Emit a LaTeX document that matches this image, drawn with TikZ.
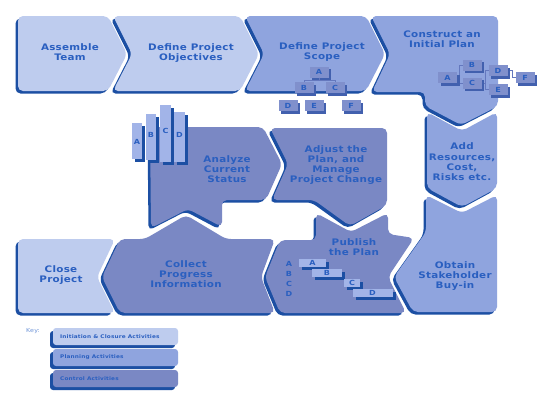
\documentclass[tikz,border=0pt]{standalone}
\usepackage{fontspec}
\usetikzlibrary{shadows}
\newfontfamily\lblfont{DejaVu Sans}[FakeStretch=1.15,LetterSpace=3]
\definecolor{lightc}{HTML}{BECCEE}
\definecolor{planc}{HTML}{8FA4DE}
\definecolor{ctrlc}{HTML}{7A88C4}
\definecolor{shadc}{HTML}{1C4FA3}
\definecolor{txtc}{HTML}{2A5FC0}
\definecolor{boxc}{HTML}{8090CC}
\definecolor{boxsh}{HTML}{4260AE}
\definecolor{linec}{HTML}{6478BE}
\definecolor{barc}{HTML}{A2B4E8}
\definecolor{keyc}{HTML}{6F95D8}
\newcommand\shapeblob[2]{%
  \fill[shadc,rounded corners=5pt,shift={(-2.5,2.5)}] #2;
  \fill[#1,rounded corners=5pt] #2;}
\tikzset{
  lbl/.style={font=\lblfont\bfseries\fontsize{9}{10.3}\selectfont, text=txtc, align=center, inner sep=0pt},
  tbox/.style={fill=boxc, minimum width=19pt, minimum height=11pt, inner sep=0pt,
    font=\lblfont\bfseries\fontsize{7}{7}\selectfont, text=txtc,
    drop shadow={shadow xshift=2.5pt, shadow yshift=-2.5pt, fill=boxsh, opacity=1}},
  gbar/.style={fill=barc, minimum height=8pt, inner sep=0pt,
    font=\lblfont\bfseries\fontsize{7}{7}\selectfont, text=txtc,
    drop shadow={shadow xshift=3pt, shadow yshift=-3pt, fill=shadc, opacity=1}},
  let/.style={font=\lblfont\bfseries\fontsize{7}{7}\selectfont, text=txtc, inner sep=0pt},
  tline/.style={draw=linec, line width=0.5pt},
  keytxt/.style={font=\lblfont\bfseries\fontsize{5}{5}\selectfont, text=txtc, inner sep=0pt, anchor=west},
}
\begin{document}
\begin{tikzpicture}[x=1pt,y=-1pt]
\useasboundingbox (0,0) rectangle (551,402);
\fill[white] (0,0) rectangle (551,402);

% top row
\shapeblob{lightc}{(18,16) -- (108,16) -- (127,54) -- (108,91) -- (18,91) -- cycle}
\shapeblob{lightc}{(113,16) -- (240,16) -- (259,54) -- (240,91) -- (113,91) -- (132,54) -- cycle}
\shapeblob{planc}{(245,16) -- (366,16) -- (385,54) -- (366,91) -- (245,91) -- (264,54) -- cycle}
\shapeblob{planc}{(371,16) -- (498,16) -- (498,106) -- (461,125) -- (425,106) -- (425,92) -- (372,92) -- (390,54) -- cycle}
% right column
\shapeblob{planc}{(427,112) -- (462,131) -- (497,112) -- (497,188) -- (462,207) -- (427,188) -- cycle}
\shapeblob{planc}{(426,195) -- (462,213) -- (497,195) -- (497,312) -- (413,312) -- (394,277) -- (426,232) -- cycle}
% middle
\shapeblob{ctrlc}{(150,127) -- (263,127) -- (282,164) -- (266,200) -- (222,200) -- (222,227) -- (188,209) -- (151,228) -- cycle}
\shapeblob{ctrlc}{(270,128) -- (387,128) -- (387,205) -- (350,226) -- (314,200) -- (272,200) -- (288,164) -- cycle}
% bottom row
\shapeblob{ctrlc}{(280,240) -- (316,240) -- (316,213) -- (351,232) -- (388,213) -- (388,234) -- (414,238) -- (388,277) -- (406,313) -- (280,313) -- (265,277) -- cycle}
\shapeblob{ctrlc}{(120,239) -- (145,239) -- (186,215) -- (226,239) -- (275,239) -- (261,277) -- (275,313) -- (120,313) -- (102,277) -- cycle}
\shapeblob{lightc}{(18,239) -- (115,239) -- (97,277) -- (115,313) -- (18,313) -- cycle}

% labels
\node[lbl] (tAssemble) at (70,52) {Assemble\\Team};
\node[lbl] (tObjectives) at (191,53) {Define Project\\Objectives};
\node[lbl] (tScope) at (322,52) {Define Project\\Scope};
\node[lbl] (tConstruct) at (442,39) {Construct an\\Initial Plan};
\node[lbl] (tAdd) at (462,162) {Add\\Resources,\\Cost,\\Risks etc.};
\node[lbl] (tObtain) at (455,276) {Obtain\\Stakeholder\\Buy-in};
\node[lbl] (tPublish) at (354,247) {Publish\\the Plan};
\node[lbl] (tCollect) at (186,274) {Collect\\Progress\\Information};
\node[lbl] (tClose) at (61,275) {Close\\Project};
\node[lbl] (tAnalyze) at (227,169) {Analyze\\Current\\Status};
\node[lbl] (tAdjust) at (336,165) {Adjust the\\Plan, and\\Manage\\Project Change};

% scope tree
\node[tbox] (sA) at (319,72) {A};
\node[tbox] (sB) at (304,87.5) {B};
\node[tbox] (sC) at (335,87.5) {C};
\node[tbox] (sD) at (288,105.5) {D};
\node[tbox] (sE) at (314,105.5) {E};
\node[tbox] (sF) at (351,105.5) {F};
\draw[tline] (sA.south) -- ++(0,2.5) -| (sB.north);
\draw[tline] (sA.south) -- ++(0,2.5) -| (sC.north);

% construct cluster
\coordinate (j1) at (459,77.5);
\coordinate (j2) at (485,80);
\draw[tline] (447.5,77.5) -- (j1);
\draw[tline] (j1) |- (472,65);
\draw[tline] (j1) |- (472,83);
\draw[tline] (472,83) -| (j2);
\draw[tline] (j2) |- (498,70.5);
\draw[tline] (j2) |- (498,89.5);
\draw[tline] (498,70.5) -| (512,77.5) -- (525,77.5);
\node[tbox] (cA) at (447.5,77.5) {A};
\node[tbox] (cB) at (472,65) {B};
\node[tbox] (cC) at (472,83) {C};
\node[tbox] (cD) at (498,70.5) {D};
\node[tbox] (cE) at (498,89.5) {E};
\node[tbox] (cF) at (525,77.5) {F};

% analyze bar chart
\fill[shadc] (135,126) rectangle (145,162);
\fill[barc] (132,123) rectangle (142,159);
\fill[shadc] (149,117) rectangle (159,163);
\fill[barc] (146,114) rectangle (156,160);
\fill[shadc] (163,108) rectangle (174,165);
\fill[barc] (160,105) rectangle (171,162);
\fill[shadc] (177,115) rectangle (188,165);
\fill[barc] (174,112) rectangle (185,162);
\node[let] (bA) at (137,142) {A};
\node[let] (bB) at (151,135) {B};
\node[let] (bC) at (165.5,131) {C};
\node[let] (bD) at (179.5,135) {D};

% publish gantt
\node[let] (gA) at (289,264) {A};
\node[let] (gB) at (289,274) {B};
\node[let] (gC) at (289,284) {C};
\node[let] (gD) at (289,294) {D};
\node[gbar, minimum width=27pt] (pA) at (312.5,263) {A};
\node[gbar, minimum width=30pt] (pB) at (327,273) {B};
\node[gbar, minimum width=16pt] (pC) at (352,283) {C};
\node[gbar, minimum width=40pt] (pD) at (372.5,293) {D};

% key
\node[font=\lblfont\fontsize{5.5}{5.5}\selectfont, text=keyc, inner sep=0pt, anchor=west] (key) at (26,331) {Key:};
\fill[shadc,rounded corners=3pt] (50,331) rectangle (175,348);
\fill[lightc,rounded corners=3pt] (53,328) rectangle (178,345);
\fill[shadc,rounded corners=3pt] (50,352) rectangle (175,369);
\fill[planc,rounded corners=3pt] (53,349) rectangle (178,366);
\fill[shadc,rounded corners=3pt] (50,373) rectangle (175,390);
\fill[ctrlc,rounded corners=3pt] (53,370) rectangle (178,387);
\node[keytxt] (k1) at (60,336.5) {Initiation \& Closure Activities};
\node[keytxt] (k2) at (60,357.5) {Planning Activities};
\node[keytxt] (k3) at (60,378.5) {Control Activities};
\end{tikzpicture}
\end{document}
